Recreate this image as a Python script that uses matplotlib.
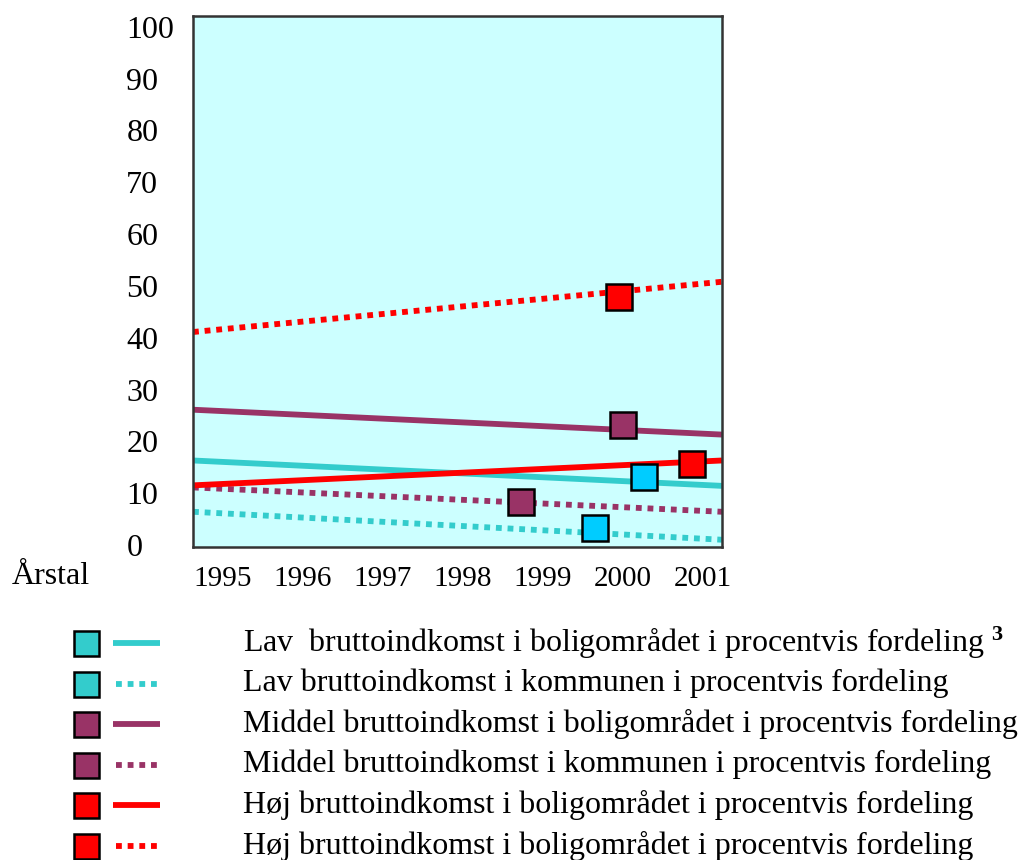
import matplotlib
matplotlib.use("Agg")
import matplotlib.pyplot as plt
import numpy as np

plt.rcParams['font.family'] = ['Liberation Serif', 'DejaVu Serif']
plt.rcParams['mathtext.fontset'] = 'custom'
plt.rcParams['mathtext.rm'] = 'Liberation Serif'
plt.rcParams['mathtext.bf'] = 'Liberation Serif:bold'

# ---- data ----------------------------------------------------
years = [1995, 1996, 1997, 1998, 1999, 2000, 2001]
y_ticks = [0, 10, 20, 30, 40, 50, 60, 70, 80, 90, 100]

labels = [
    "Lav  bruttoindkomst i boligområdet i procentvis fordeling $\\mathbf{^3}$",
    "Lav bruttoindkomst i kommunen i procentvis fordeling",
    "Middel bruttoindkomst i boligområdet i procentvis fordeling",
    "Middel bruttoindkomst i kommunen i procentvis fordeling",
    "Høj bruttoindkomst i boligområdet i procentvis fordeling",
    "Høj bruttoindkomst i boligområdet i procentvis fordeling",
]
# trend line, value at start and end of the x range
trend_start = [16.3, 6.4, 26.1, 11.1, 11.5, 41.1]
trend_end = [11.4, 1.0, 21.3, 6.4, 16.3, 50.8]
# single observed point
point_x = [2000.26, 1999.65, 2000.0, 1998.73, 2000.86, 1999.95]
point_y = [13.1, 3.3, 23.1, 8.3, 15.7, 47.8]

line_col = ["#33CCCC", "#33CCCC", "#993366", "#993366", "#FF0000", "#FF0000"]
mark_col = ["#00CCFF", "#00CCFF", "#993366", "#993366", "#FF0000", "#FF0000"]
legend_mark_col = ["#33CCCC", "#33CCCC", "#993366", "#993366", "#FF0000", "#FF0000"]
styles = ["-", ":", "-", ":", "-", ":"]

xlim = (1994.625, 2001.24)

fig = plt.figure(figsize=(10.23, 8.6), dpi=100)
ax = fig.add_axes([193/1023, 1-547/860, 529/1023, 531/860])
ax.set_facecolor("#CCFFFF")
ax.set_xlim(*xlim)
ax.set_ylim(-0.4, 102.1)

for i in range(6):
    ls = (0, (1, 1)) if styles[i] == ":" else "-"
    ax.plot(xlim, [trend_start[i], trend_end[i]], color=line_col[i], lw=4.2,
            linestyle=ls, dash_capstyle="butt", solid_capstyle="butt", zorder=2)
for i in range(6):
    ax.plot(point_x[i], point_y[i], "s", ms=18.5, mfc=mark_col[i], mec="black",
            mew=1.8, zorder=3)

ax.set_xticks(years)
ax.set_xticklabels([str(y) for y in years], fontsize=21)
ax.set_yticks(y_ticks)
ax.set_yticklabels([str(v) for v in y_ticks], fontsize=23, ha="left")
ax.tick_params(axis="y", length=0, pad=48)
ax.tick_params(axis="x", length=0, pad=14)
for s in ax.spines.values():
    s.set_linewidth(1.8)
    s.set_color("#333333")
fig.text(12/1023, 1-577/860, "Årstal", fontsize=23, va="center", ha="left")

# ---- legend --------------------------------------------------
lax = fig.add_axes([0, 0, 1, 1], facecolor="none")
lax.set_xlim(0, 1023)
lax.set_ylim(860, 0)
lax.axis("off")
for i in range(6):
    yy = 643 + i * 40.5
    lax.plot(86, yy, "s", ms=18, mfc=legend_mark_col[i], mec="black", mew=1.8)
    ls = (0, (1, 1)) if styles[i] == ":" else "-"
    x0 = 116 if styles[i] == ":" else 113
    lax.plot([x0, 160], [yy, yy], color=line_col[i], lw=4.2, linestyle=ls,
             dash_capstyle="butt", solid_capstyle="butt")
    lax.text(243, yy, labels[i], fontsize=23, va="center", ha="left")

fig.savefig("out.png", dpi=100)
